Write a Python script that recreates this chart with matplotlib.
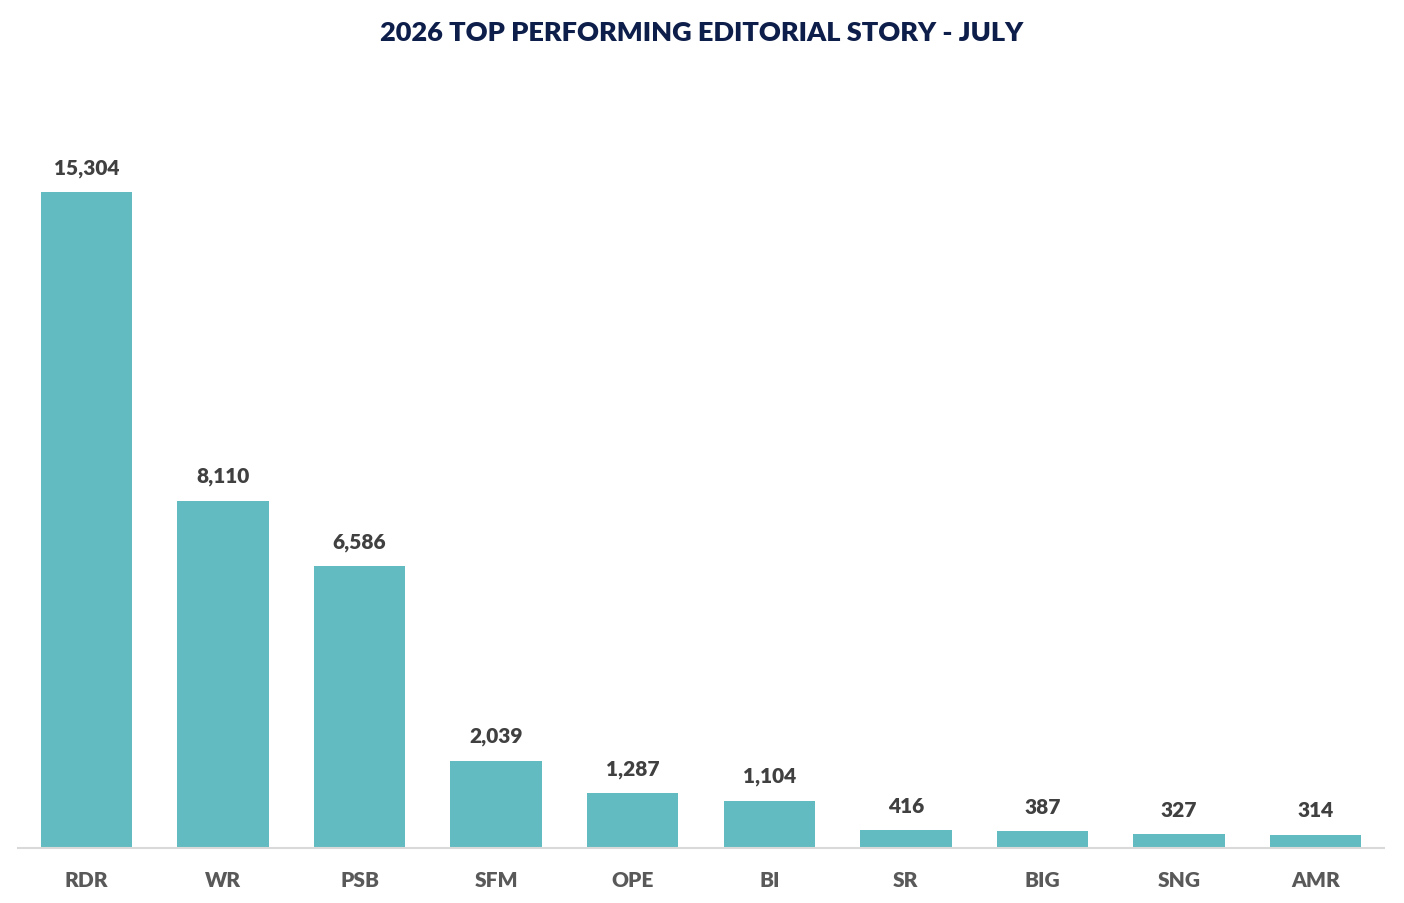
import matplotlib
matplotlib.use("Agg")
import matplotlib.pyplot as plt

categories = ["RDR", "WR", "PSB", "SFM", "OPE", "BI", "SR", "BIG", "SNG", "AMR"]
values = [15304, 8110, 6586, 2039, 1287, 1104, 416, 387, 327, 314]
title = "2026 TOP PERFORMING EDITORIAL STORY - JULY"

plt.rcParams['font.family'] = ['Lato', 'DejaVu Sans']

fig = plt.figure(figsize=(14.04, 9.04), dpi=100)
ax = fig.add_axes([18/1404, 55/904, 1366/1404, (847-76)/904])

x = list(range(len(categories)))
bars = ax.bar(x, values, width=0.67, color="#62BBC1", zorder=2)
ax.set_xlim(-0.5, len(categories) - 0.5)
ax.set_ylim(0, 18000)

for xi, v in zip(x, values):
    ax.annotate(f"{v:,}", (xi, v), xytext=(0, 11), textcoords="offset points",
                ha="center", va="bottom", fontsize=15, fontweight="heavy", color="#404040")

ax.set_xticks(x)
ax.set_xticklabels(categories, fontsize=15, fontweight="heavy", color="#595959")
ax.tick_params(axis="x", length=0, pad=15.5)
ax.set_yticks([])
for s in ["top", "right", "left"]:
    ax.spines[s].set_visible(False)
ax.spines["bottom"].set_color("#D9D9D9")
ax.spines["bottom"].set_linewidth(1.5)

fig.text(0.5, 1 - 33/904, title, ha="center", va="center", fontsize=19.5,
         fontweight="heavy", color="#0E1E4A")

fig.savefig("out.png", dpi=100, facecolor="white")
